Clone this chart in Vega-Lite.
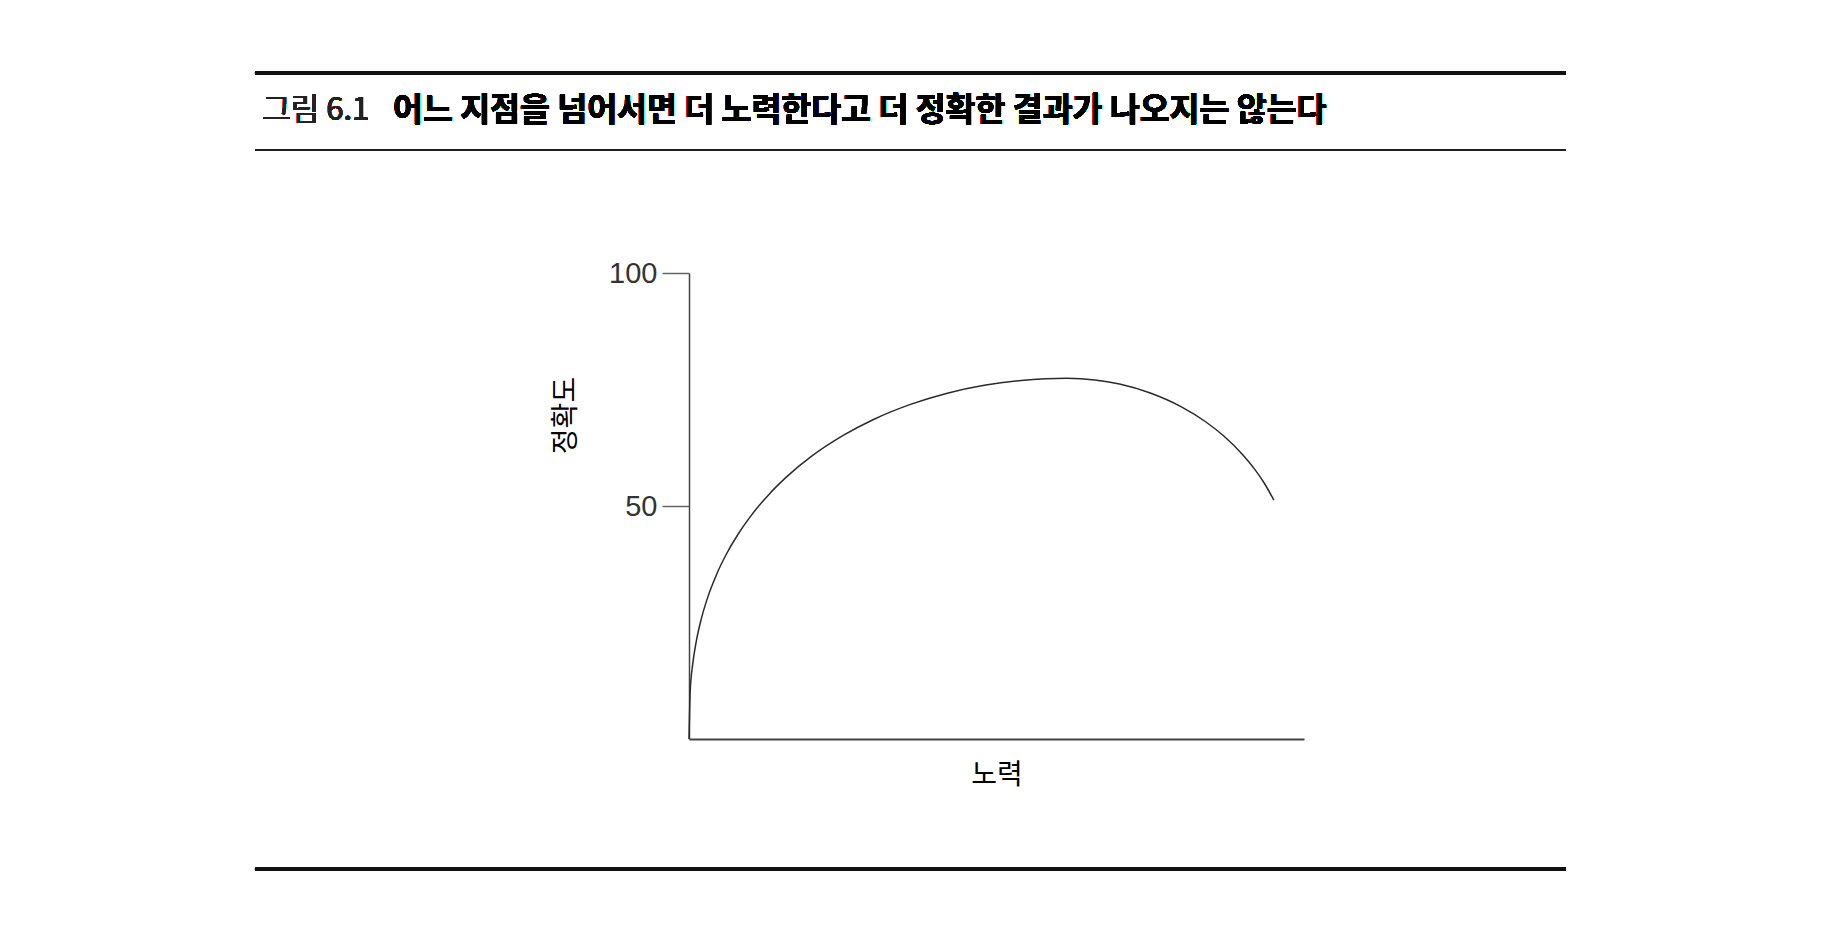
{
  "$schema": "https://vega.github.io/schema/vega-lite/v6.json",
  "width": 615,
  "height": 466,
  "autosize": {"type": "none"},
  "padding": {"left": 689, "top": 273, "right": 544, "bottom": 195},
  "background": "white",
  "config": {"view": {"stroke": null}, "font": "Noto Sans CJK KR"},
  "data": {
    "values": [
      {"effort": 0, "accuracy": 0},
      {"effort": 0.2, "accuracy": 10.33},
      {"effort": 0.6, "accuracy": 16.01},
      {"effort": 1.2, "accuracy": 21.08},
      {"effort": 2, "accuracy": 25.79},
      {"effort": 3, "accuracy": 30.23},
      {"effort": 4.5, "accuracy": 35.37},
      {"effort": 6, "accuracy": 39.48},
      {"effort": 8, "accuracy": 43.99},
      {"effort": 10, "accuracy": 47.77},
      {"effort": 13, "accuracy": 52.49},
      {"effort": 16, "accuracy": 56.4},
      {"effort": 20, "accuracy": 60.74},
      {"effort": 25, "accuracy": 65.09},
      {"effort": 30, "accuracy": 68.56},
      {"effort": 36, "accuracy": 71.8},
      {"effort": 42, "accuracy": 74.21},
      {"effort": 48, "accuracy": 75.91},
      {"effort": 54, "accuracy": 76.95},
      {"effort": 58, "accuracy": 77.3},
      {"effort": 61.4, "accuracy": 77.4},
      {"effort": 66, "accuracy": 77.05},
      {"effort": 70, "accuracy": 76.17},
      {"effort": 75, "accuracy": 74.26},
      {"effort": 80, "accuracy": 71.33},
      {"effort": 84, "accuracy": 68.08},
      {"effort": 87, "accuracy": 64.97},
      {"effort": 90, "accuracy": 61.07},
      {"effort": 92, "accuracy": 57.86},
      {"effort": 93.5, "accuracy": 54.99},
      {"effort": 95.1, "accuracy": 51.28}
    ]
  },
  "layer": [
    {
      "mark": {"type": "line", "interpolate": "monotone", "color": "#2a2a2a", "strokeWidth": 1.5},
      "encoding": {
        "x": {
          "field": "effort", "type": "quantitative",
          "scale": {"domain": [0, 100], "nice": false, "zero": false},
          "axis": {
            "title": "노력", "ticks": false, "labels": false, "grid": false,
            "domainColor": "#444", "domainWidth": 2,
            "titleFont": "Noto Sans CJK KR", "titleFontSize": 28, "titleFontWeight": "normal", "titleColor": "#000",
            "titleX": 307.5, "titleY": 36, "titleAlign": "center", "titleBaseline": "middle"
          }
        },
        "y": {
          "field": "accuracy", "type": "quantitative",
          "scale": {"domain": [0, 100], "nice": false},
          "axis": {
            "title": "정확도", "values": [50, 100], "grid": false,
            "tickSize": 27, "tickColor": "#666", "tickWidth": 1.5,
            "domainColor": "#444", "domainWidth": 1.5,
            "labelFont": "Liberation Sans", "labelFontSize": 29, "labelColor": "#333", "labelPadding": 5,
            "titleFont": "Noto Sans CJK KR", "titleFontSize": 28, "titleFontWeight": "normal", "titleColor": "#000",
            "titleAngle": 270, "titleX": -123, "titleY": 142, "titleAlign": "center", "titleBaseline": "middle"
          }
        }
      }
    },
    {
      "mark": {"type": "rule", "color": "#111", "strokeWidth": 3},
      "encoding": {
        "x": {"datum": -70.57, "type": "quantitative"},
        "x2": {"datum": 142.6},
        "y": {"datum": 142.9, "type": "quantitative"}
      }
    },
    {
      "mark": {"type": "rule", "color": "#222", "strokeWidth": 1.5},
      "encoding": {
        "x": {"datum": -70.57, "type": "quantitative"},
        "x2": {"datum": 142.6},
        "y": {"datum": 126.4, "type": "quantitative"}
      }
    },
    {
      "mark": {"type": "rule", "color": "#111", "strokeWidth": 2.5},
      "encoding": {
        "x": {"datum": -70.57, "type": "quantitative"},
        "x2": {"datum": 142.6},
        "y": {"datum": -27.9, "type": "quantitative"}
      }
    },
    {
      "mark": {"type": "text", "text": "그림 6.1", "align": "left", "baseline": "middle", "font": "Noto Sans CJK KR", "fontSize": 31, "fontWeight": "normal", "color": "#222"},
      "encoding": {
        "x": {"datum": -69.4, "type": "quantitative"},
        "y": {"datum": 134.8, "type": "quantitative"}
      }
    },
    {
      "mark": {"type": "text", "text": "어느 지점을 넘어서면 더 노력한다고 더 정확한 결과가 나오지는 않는다", "align": "left", "baseline": "middle", "font": "Noto Sans CJK KR", "fontSize": 32.5, "fontWeight": "bold", "color": "#000"},
      "encoding": {
        "x": {"datum": -48.13, "type": "quantitative"},
        "y": {"datum": 134.8, "type": "quantitative"}
      }
    }
  ]
}
